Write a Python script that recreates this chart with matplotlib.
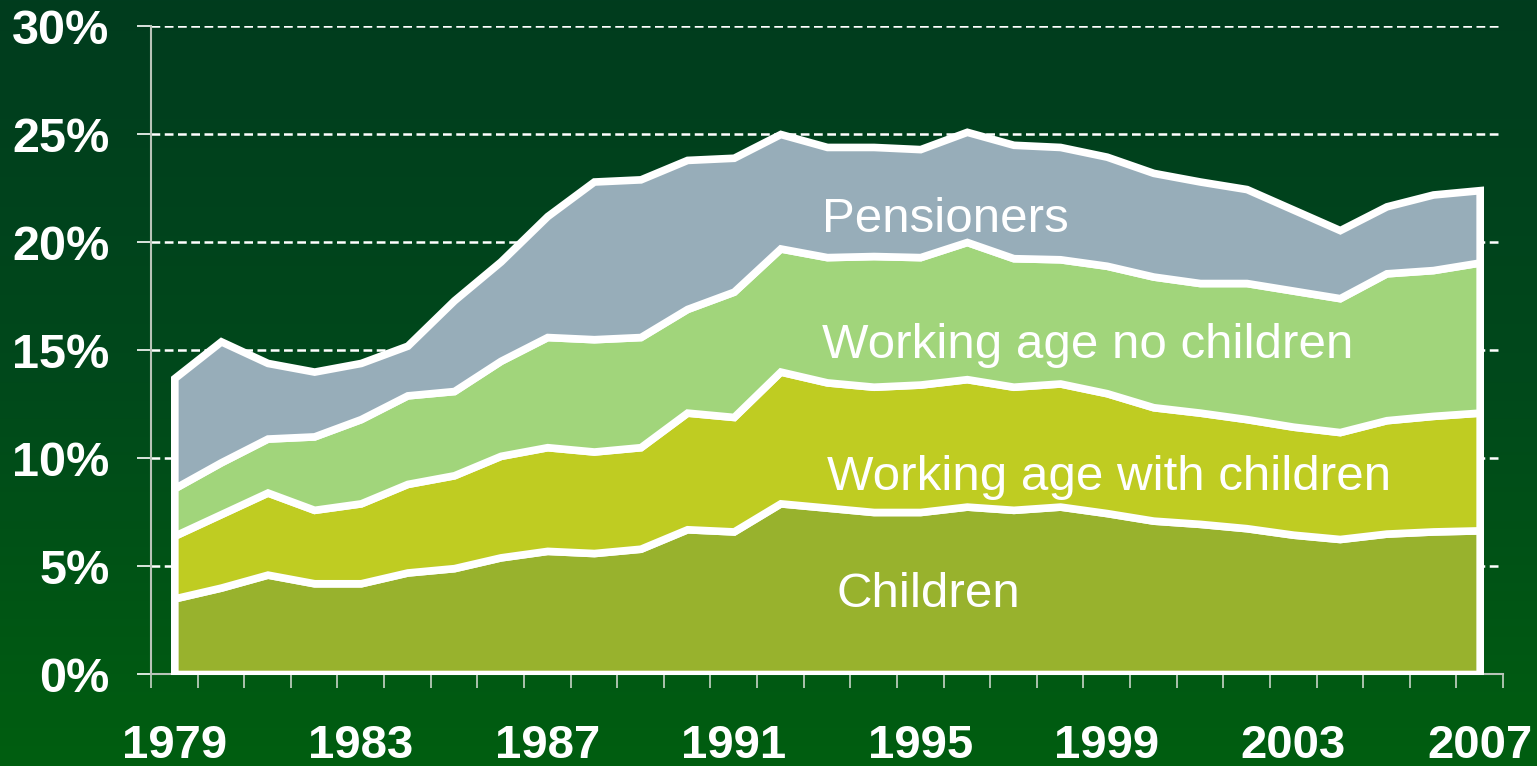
import numpy as np
import matplotlib
matplotlib.use('Agg')
import matplotlib.pyplot as plt
from matplotlib.colors import LinearSegmentedColormap

# Годы и доли (%) по группам
years = list(range(1979, 2008))
children = [3.5, 4.0, 4.6, 4.2, 4.2, 4.7, 4.9, 5.4, 5.7, 5.6, 5.8, 6.7, 6.6, 7.9, 7.7,
            7.5, 7.5, 7.75, 7.6, 7.75, 7.45, 7.1, 6.95, 6.75, 6.45, 6.25, 6.5, 6.6, 6.65]
with_children = [2.9, 3.4, 3.8, 3.4, 3.7, 4.1, 4.3, 4.7, 4.8, 4.7, 4.7, 5.4, 5.3, 6.1, 5.8,
                 5.8, 5.9, 5.9, 5.7, 5.7, 5.55, 5.25, 5.15, 5.05, 5.0, 4.95, 5.25, 5.35, 5.45]
no_children = [2.2, 2.4, 2.5, 3.4, 3.9, 4.1, 3.9, 4.4, 5.1, 5.2, 5.1, 4.8, 5.8, 5.7, 5.8,
               6.05, 5.9, 6.35, 5.95, 5.75, 5.9, 6.05, 6.0, 6.3, 6.3, 6.2, 6.8, 6.75, 6.95]
pensioners = [5.1, 5.6, 3.5, 3.0, 2.6, 2.3, 4.2, 4.6, 5.6, 7.3, 7.3, 6.9, 6.2, 5.3, 5.1,
              5.05, 5.0, 5.1, 5.25, 5.2, 5.05, 4.8, 4.7, 4.35, 3.75, 3.15, 3.1, 3.5, 3.35]
labels = ['Children', 'Working age with children', 'Working age no children', 'Pensioners']
colors = ['#98b22d', '#bfcc22', '#a1d57b', '#97adb9']
yticks = [0, 5, 10, 15, 20, 25, 30]
xlabel_years = [1979, 1983, 1987, 1991, 1995, 1999, 2003, 2007]

fig = plt.figure(figsize=(15.37, 7.66), dpi=100)
plt.rcParams['font.family'] = ['Liberation Sans', 'DejaVu Sans']

# фон - вертикальный градиент
bg = fig.add_axes([0, 0, 1, 1], zorder=-10)
cmap = LinearSegmentedColormap.from_list('bg', ['#003c1e', '#00491b', '#005e10'])
bg.imshow(np.linspace(0, 1, 256).reshape(-1, 1), aspect='auto', cmap=cmap,
          extent=[0, 1, 0, 1])
bg.axis('off')

ax = fig.add_axes([151 / 1537, 1 - 674 / 766, 1352 / 1537, 648 / 766])
ax.patch.set_alpha(0)

x = np.arange(len(years))
polys = ax.stackplot(x, children, with_children, no_children, pensioners,
                     colors=colors, edgecolor='white', linewidth=5.5, zorder=3)
for p in polys:
    p.set_joinstyle('miter')

ax.set_xlim(-0.5, len(years) - 0.5)
ax.set_ylim(0, 30)

for y in yticks[1:]:
    ax.axhline(y, color='white', lw=1.8, linestyle=(0, (3.5, 1.8)), zorder=1)

ax.set_yticks(yticks)
ax.set_yticklabels([f'{v}%' for v in yticks], fontsize=35, fontweight='bold', color='white')
ax.tick_params(axis='y', length=10, width=1.2, color='white', pad=20)

ax.set_xticks(np.arange(-0.5, len(years)), minor=True)
ax.set_xticks([years.index(y) for y in xlabel_years])
ax.set_xticklabels([str(y) for y in xlabel_years], fontsize=34, fontweight='bold', color='white')
ax.tick_params(axis='x', which='major', length=0, pad=36)
ax.tick_params(axis='x', which='minor', length=10, width=1.2, color='#c8d4c8')

for s in ['top', 'right']:
    ax.spines[s].set_visible(False)
ax.spines['left'].set_color('#b8c4b8')
ax.spines['left'].set_linewidth(1.5)
ax.spines['bottom'].set_color('#b8c4b8')
ax.spines['bottom'].set_linewidth(1.5)

# подписи групп
txt = dict(color='white', fontsize=35.5, va='baseline', ha='left', zorder=5)
ax.text(13.9, 20.46, 'Pensioners', **txt)
ax.text(13.9, 14.63, 'Working age no children', **txt)
ax.text(14.0, 8.52, 'Working age with children', **txt)
ax.text(14.2, 3.1, 'Children', **txt)

fig.savefig('out.png', dpi=100)
